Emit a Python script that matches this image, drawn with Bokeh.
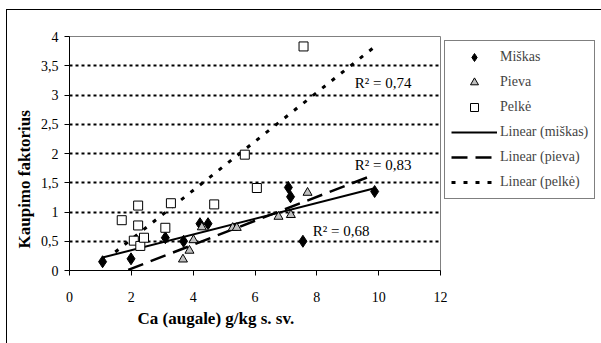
import numpy as np
from bokeh.plotting import figure
from bokeh.models import Legend, LegendItem, Label, FixedTicker, Range1d, Title
from bokeh.embed import file_html
from bokeh.resources import INLINE

# ---- data ----
miskas_x = [1.07, 1.99, 3.10, 3.69, 4.22, 4.48, 7.08, 7.15, 7.55, 9.87]
miskas_y = [0.15, 0.20, 0.56, 0.50, 0.80, 0.80, 1.42, 1.26, 0.50, 1.35]

pieva_x = [3.67, 3.88, 4.01, 4.28, 5.28, 5.41, 6.76, 7.16, 7.70]
pieva_y = [0.19, 0.34, 0.52, 0.74, 0.73, 0.73, 0.92, 0.95, 1.33]

pelke_x = [1.69, 2.08, 2.22, 2.22, 2.29, 2.41, 3.10, 3.28, 4.68, 5.67, 6.06, 7.57]
pelke_y = [0.86, 0.51, 1.11, 0.77, 0.42, 0.56, 0.73, 1.15, 1.13, 1.98, 1.41, 3.83]

# x-extent of each trendline as drawn in the reference
miskas_trend_range = [1.07, 9.87]
pieva_trend_range = [1.90, 9.80]
pelke_trend_range = [1.48, 9.87]

r2_labels = ["R² = 0,68", "R² = 0,83", "R² = 0,74"]

x_ticks = [0, 2, 4, 6, 8, 10, 12]
y_ticks = [0, 0.5, 1, 1.5, 2, 2.5, 3, 3.5, 4]
y_tick_labels = ["0", "0,5", "1", "1,5", "2", "2,5", "3", "3,5", "4"]

series_names = ["Miškas", "Pieva", "Pelkė"]
trend_names = ["Linear (miškas)", "Linear (pieva)", "Linear (pelkė)"]

x_title = "Ca (augale) g/kg s. sv."
y_title = "Kaupimo  faktorius"

FONT = "Liberation Serif"

p = figure(frame_width=371, frame_height=234, output_backend="svg", toolbar_location=None,
           x_range=Range1d(0, 12), y_range=Range1d(0, 4),
           min_border_left=62, min_border_right=161, min_border_top=26,
           min_border_bottom=73)
p.styles = {"margin-left": "6px", "margin-top": "9px",
            "border-left": "1px solid black", "border-top": "1px solid black"}
p.background_fill_color = "white"
p.border_fill_color = "white"
p.outline_line_color = "#808080"
p.outline_line_width = 1

# grid
p.xgrid.visible = False
p.ygrid.ticker = FixedTicker(ticks=y_ticks[1:])
p.ygrid.grid_line_color = "black"
p.ygrid.grid_line_dash = "3 3"
p.ygrid.grid_line_width = 2

# axes
for ax in (p.xaxis[0], p.yaxis[0]):
    ax.axis_line_color = "black"
    ax.major_tick_line_color = "black"
    ax.major_tick_in = 0
    ax.major_tick_out = 5
    ax.minor_tick_line_color = None
    ax.major_label_text_font = FONT
    ax.major_label_text_font_size = "14px"
    ax.major_label_text_color = "black"
p.xaxis.ticker = FixedTicker(ticks=x_ticks)
p.yaxis.ticker = FixedTicker(ticks=y_ticks)
p.yaxis.major_label_overrides = {t: s for t, s in zip(y_ticks, y_tick_labels)}
p.xaxis.major_label_standoff = 16
p.yaxis.major_label_standoff = 6

# axis titles as side-panel titles
p.add_layout(Title(text=x_title, align="left", offset=68, standoff=5,
                   text_font=FONT, text_font_size="17px", text_font_style="bold",
                   text_color="black"), "below")
p.add_layout(Title(text=y_title, align="left", offset=22, standoff=7,
                   text_font=FONT, text_font_size="17px", text_font_style="bold",
                   text_color="black"), "left")

# trendlines
def trend(xs, ys, rng):
    k, b = np.polyfit(xs, ys, 1)
    tx = np.array(rng)
    return tx, k * tx + b

tx, ty = trend(miskas_x, miskas_y, miskas_trend_range)
l_mis = p.line(tx, ty, line_color="black", line_width=2)
tx, ty = trend(pieva_x, pieva_y, pieva_trend_range)
l_pie = p.line(tx, ty, line_color="black", line_width=2.5, line_dash="16 8")
tx, ty = trend(pelke_x, pelke_y, pelke_trend_range)
l_pel = p.line(tx, ty, line_color="black", line_width=3, line_dash="4 8")

# markers
s_mis = p.scatter(miskas_x, miskas_y, marker="diamond", size=12,
                  fill_color="black", line_color="black")
s_pie = p.scatter(pieva_x, pieva_y, marker="triangle", size=9,
                  fill_color="#c0c0c0", line_color="black", line_width=1)
s_pel = p.scatter(pelke_x, pelke_y, marker="square", size=9,
                  fill_color="white", line_color="black", line_width=1)

# R² labels
for (lx, ly), txt in zip([(7.87, 0.67), (9.23, 1.80), (9.23, 3.21)], r2_labels):
    p.add_layout(Label(x=lx, y=ly, text=txt, text_font=FONT, text_font_size="15px",
                       text_baseline="middle", text_align="left", text_color="black"))

legend = Legend(items=[
    LegendItem(label=series_names[0], renderers=[s_mis]),
    LegendItem(label=series_names[1], renderers=[s_pie]),
    LegendItem(label=series_names[2], renderers=[s_pel]),
    LegendItem(label=trend_names[0], renderers=[l_mis]),
    LegendItem(label=trend_names[1], renderers=[l_pie]),
    LegendItem(label=trend_names[2], renderers=[l_pel]),
], location="top_left")
legend.margin = 4
legend.padding = 6
legend.spacing = 5
legend.glyph_width = 46
legend.glyph_height = 20
legend.label_height = 20
legend.label_standoff = 3
legend.label_text_font = FONT
legend.label_text_font_size = "14px"
legend.border_line_color = "black"
legend.border_line_width = 1
legend.background_fill_alpha = 1
p.add_layout(legend, "right")

open("out.html", "w").write(file_html(p, INLINE))
